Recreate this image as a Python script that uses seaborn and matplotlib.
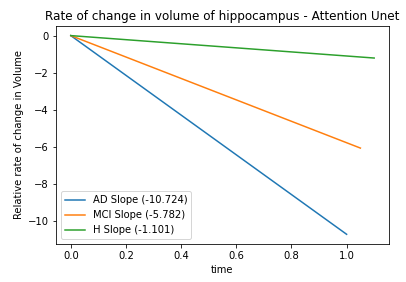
import pandas as pd
import matplotlib
matplotlib.use("Agg")
import matplotlib.pyplot as plt
import seaborn as sns

# endpoints of each fitted slope line (start at 0,0)
labels = ["AD Slope (-10.724)", "MCI Slope (-5.782)", "H Slope (-1.101)"]
slopes = [-10.724, -5.782, -1.101]
x_end = [1.0, 1.05, 1.1]
colors = ["#1f77b4", "#ff7f0e", "#2ca02c"]

rows = []
for lab, s, xe in zip(labels, slopes, x_end):
    rows.append({"time": 0.0, "value": 0.0, "group": lab})
    rows.append({"time": xe, "value": s * xe, "group": lab})
df = pd.DataFrame(rows)

fig = plt.figure(figsize=(406 / 72, 282 / 72), dpi=72)
ax = fig.add_axes([0.137, 0.134, 0.822, 0.775])
sns.lineplot(data=df, x="time", y="value", hue="group", palette=colors,
             hue_order=labels, ax=ax, linewidth=1.5)
ax.set_title("Rate of change in volume of hippocampus - Attention Unet")
ax.set_xlabel("time")
ax.set_ylabel("Relative rate of change in Volume")
ax.legend(loc="lower left", title=None)
fig.savefig("out.png", dpi=72)
